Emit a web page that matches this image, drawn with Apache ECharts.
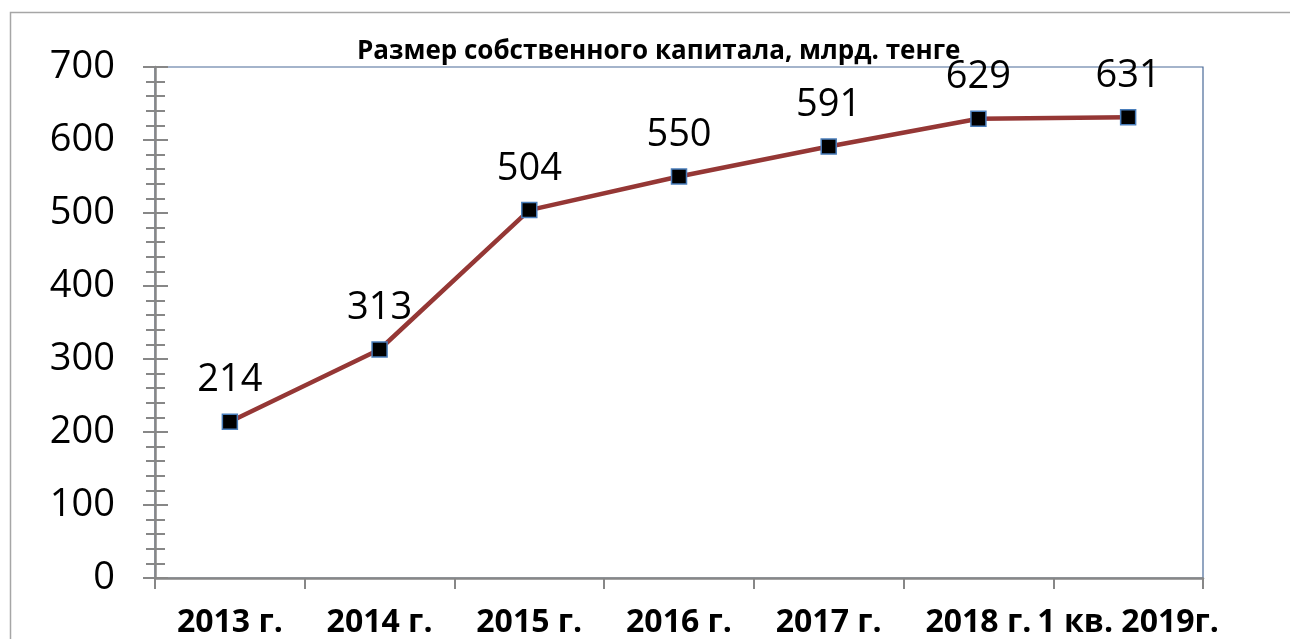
<!DOCTYPE html>
<html>
<head>
<meta charset="utf-8">
<script src="https://cdn.jsdelivr.net/npm/echarts@6/dist/echarts.min.js"></script>
<style>
  html, body { margin: 0; padding: 0; background: #fff; }
  #chart { width: 1290px; height: 639px; }
</style>
</head>
<body>
<div id="chart"></div>
<script>
// данные
var categories = ['2013 г.', '2014 г.', '2015 г.', '2016 г.', '2017 г.', '2018 г.', '1 кв. 2019г.'];
var capital = [214, 313, 504, 550, 591, 629, 631];
var titleText = 'Размер собственного капитала, млрд. тенге';

var FONT = 'Open Sans';
var axisGray = '#878787';

var chart = echarts.init(document.getElementById('chart'));

var option = {
  backgroundColor: '#fff',
  animation: false,
  title: {
    text: titleText,
    left: 352,
    top: 34,
    textStyle: { fontFamily: FONT, fontWeight: 'bold', fontSize: 26, color: '#000' }
  },
  graphic: [
    {
      // внешняя рамка области диаграммы
      type: 'rect',
      shape: { x: 10.5, y: 12.5, width: 1400, height: 800 },
      style: { fill: 'none', stroke: '#a6a6a6', lineWidth: 1.5 },
      silent: true
    }
  ],
  grid: {
    left: 155,
    right: 87,
    top: 67,
    bottom: 61,
    show: true,
    borderColor: '#4a6a98',
    borderWidth: 1.2,
    backgroundColor: 'transparent'
  },
  xAxis: {
    type: 'category',
    data: categories,
    boundaryGap: true,
    axisLine: { show: true, lineStyle: { color: axisGray, width: 2.5 } },
    axisTick: { show: true, length: 11, alignWithLabel: false, lineStyle: { color: axisGray, width: 2 } },
    axisLabel: { fontFamily: FONT, fontWeight: 'bold', fontSize: 32, color: '#000', margin: 29, interval: 0 },
    splitLine: { show: false }
  },
  yAxis: [
    {
      type: 'value',
      min: 0,
      max: 700,
      interval: 100,
      position: 'left',
      axisLine: { show: true, lineStyle: { color: axisGray, width: 2.5 } },
      axisTick: { show: true, inside: false, length: 12, lineStyle: { color: axisGray, width: 2 } },
      minorTick: { show: true, splitNumber: 5, length: 9, lineStyle: { color: axisGray, width: 2 } },
      axisLabel: { fontFamily: FONT, fontSize: 38, color: '#000', margin: 40 },
      splitLine: { show: false }
    },
    {
      // вторая ось — засечки внутрь, чтобы они пересекали линию оси
      type: 'value',
      min: 0,
      max: 700,
      interval: 100,
      position: 'left',
      offset: 0,
      axisLine: { show: false },
      axisTick: { show: true, inside: true, length: 13, lineStyle: { color: axisGray, width: 2 } },
      minorTick: { show: true, splitNumber: 5, length: 10, lineStyle: { color: axisGray, width: 2 } },
      axisLabel: { show: false },
      splitLine: { show: false }
    }
  ],
  series: [
    {
      name: 'Капитал',
      type: 'line',
      yAxisIndex: 0,
      data: capital,
      symbol: 'rect',
      symbolSize: 15,
      lineStyle: { color: '#953735', width: 4.5 },
      itemStyle: { color: '#000', borderColor: '#4a7ebb', borderWidth: 1.5 },
      label: {
        show: true,
        position: 'top',
        distance: 14,
        fontFamily: FONT,
        fontSize: 38,
        color: '#000'
      },
      z: 5
    }
  ]
};

chart.setOption(option);
</script>
</body>
</html>
